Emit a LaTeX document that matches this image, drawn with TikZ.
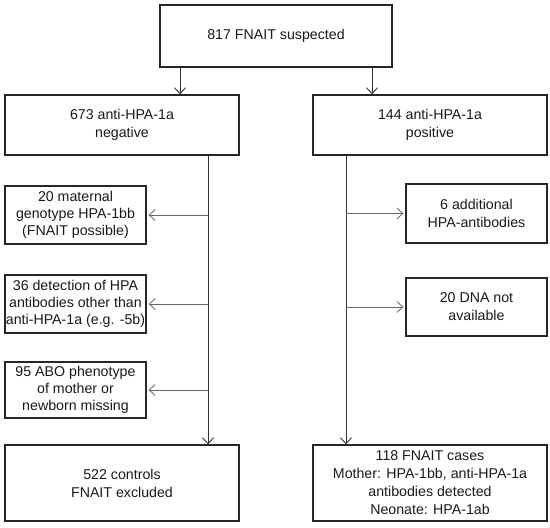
\documentclass[tikz,border=0pt]{standalone}
\usepackage{fontspec}
\setmainfont{Liberation Sans}
\usetikzlibrary{arrows.meta}
\begin{document}
\begin{tikzpicture}[x=1pt,y=-1pt,
  box/.style={draw=black!85, line width=1.2pt, rectangle, inner sep=1pt, align=center,
    font=\fontsize{14.2}{18}\selectfont, text=black!90},
  sbox/.style={box, font=\fontsize{14.2}{17}\selectfont, minimum width=141pt},
  arr/.style={draw=black!80, line width=1pt, -{Straight Barb[length=6pt,width=11pt,line width=0.9pt]}},
  side/.style={draw=black!60, line width=0.9pt, -{Straight Barb[length=6pt,width=11pt,line width=0.8pt]}, shorten >=2pt}]
\useasboundingbox (0,0) rectangle (550,528);
\node[box, minimum width=232pt, minimum height=62pt] (top) at (276,36) {817 FNAIT suspected};
\node[box, minimum width=234pt, minimum height=60pt] (lft) at (122,125) {673 anti-HPA-1a\\negative};
\node[box, minimum width=234pt, minimum height=60pt] (rgt) at (430,125) {144 anti-HPA-1a\\positive};
\node[sbox, minimum height=58pt] (A) at (75.5,215) {20 maternal\\genotype HPA-1bb\\(FNAIT possible)};
\node[sbox, minimum height=58pt] (B) at (75.5,304) {36 detection of HPA\\antibodies other than\\anti-HPA-1a (e.g. -5b)};
\node[sbox, minimum height=56pt] (C) at (75.5,390) {95 ABO phenotype\\of mother or\\newborn missing};
\node[box, minimum width=141pt, minimum height=59pt] (D) at (476.5,213.5) {6 additional\\HPA-antibodies};
\node[box, minimum width=141pt, minimum height=58pt] (E) at (476.5,307) {20 DNA not\\available};
\node[box, minimum width=234pt, minimum height=76pt] (bl) at (122,483) {522 controls\\FNAIT excluded};
\node[box, minimum width=234pt, minimum height=76pt] (br) at (430,483) {118 FNAIT cases\\Mother: HPA-1bb, anti-HPA-1a\\antibodies detected\\Neonate: HPA-1ab};
\coordinate (lv) at (208,155);
\coordinate (rv) at (346,155);
\draw[arr] ([xshift=-96pt]top.south) -- ([xshift=-96pt]top.south |- lft.north);
\draw[arr] ([xshift=96pt]top.south) -- ([xshift=96pt]top.south |- rgt.north);
\draw[arr] (lft.south -| lv) -- (bl.north -| lv);
\draw[arr] (rgt.south -| rv) -- (br.north -| rv);
\draw[side] (lv |- A.east) -- (A.east);
\draw[side] (lv |- B.east) -- (B.east);
\draw[side] (lv |- C.east) -- (C.east);
\draw[side] (rv |- D.west) -- (D.west);
\draw[side] (rv |- E.west) -- (E.west);
\end{tikzpicture}
\end{document}
